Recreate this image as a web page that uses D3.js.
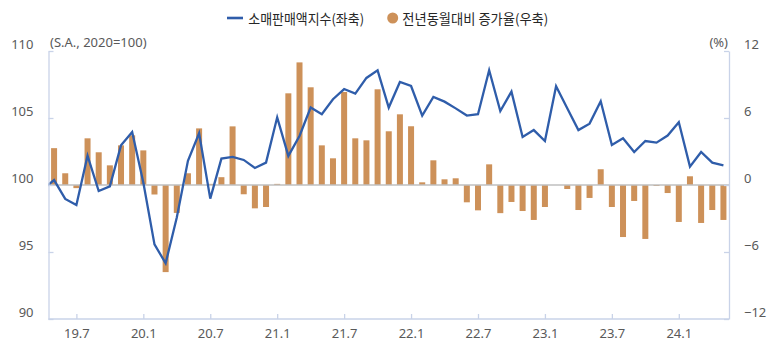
<!DOCTYPE html>
<html><head><meta charset="utf-8">
<script src="https://cdn.jsdelivr.net/npm/d3@7"></script>
<style>
body{margin:0;background:#fff;}
svg{display:block;font-family:"Noto Sans","Noto Sans CJK KR",sans-serif;}
</style></head>
<body>
<svg id="c" width="773" height="349"></svg>
<script>
// Months: 19.4 (clipped lead-in) .. 24.5
const months = ["19.4","19.5","19.6","19.7","19.8","19.9","19.10","19.11","19.12",
"20.1","20.2","20.3","20.4","20.5","20.6","20.7","20.8","20.9","20.10","20.11","20.12",
"21.1","21.2","21.3","21.4","21.5","21.6","21.7","21.8","21.9","21.10","21.11","21.12",
"22.1","22.2","22.3","22.4","22.5","22.6","22.7","22.8","22.9","22.10","22.11","22.12",
"23.1","23.2","23.3","23.4","23.5","23.6","23.7","23.8","23.9","23.10","23.11","23.12",
"24.1","24.2","24.3","24.4","24.5"];
// 소매판매액지수 (S.A., 2020=100)
const salesIndex = [99.7,100.37,98.96,98.51,102.19,99.55,99.9,102.96,103.96,
100.18,95.57,94.16,97.57,101.8,103.86,98.98,101.97,102.1,101.87,101.27,101.67,
105.05,102.17,103.66,105.78,105.28,106.4,107.16,106.82,107.99,108.56,105.78,107.69,
107.39,105.18,106.57,106.22,105.72,105.18,105.28,108.56,105.52,106.97,103.58,104.1,
103.28,107.37,105.72,104.1,104.58,106.25,102.99,103.49,102.46,103.28,103.16,103.69,
104.68,101.37,102.46,101.67,101.47];
// 전년동월대비 증가율 (%)
const yoyGrowth = [null,3.3,1.05,-0.28,4.18,2.93,1.76,3.55,4.45,
3.1,-0.85,-7.8,-2.5,1.05,5.07,0.1,0.7,5.25,-0.83,-2.09,-1.97,
0.1,8.21,10.98,8.75,3.55,2.39,8.33,4.18,4.0,8.57,4.81,6.33,
5.26,0.24,2.21,0.51,0.6,-1.55,-2.27,1.85,-2.52,-1.52,-2.33,-3.13,
-1.97,0.0,-0.36,-2.24,-1.16,1.41,-1.97,-4.66,-1.43,-4.83,-0.09,-0.72,
-3.31,0.78,-3.4,-2.24,-3.13];
const xTickLabels = ["19.7","20.1","20.7","21.1","21.7","22.1","22.7","23.1","23.7","24.1"];
const leftTicks = [90,95,100,105,110];
const rightTicks = [-12,-6,0,6,12];
const legendLabels = ["소매판매액지수(좌축)","전년동월대비 증가율(우축)"];

const svg = d3.select("#c");
const L = 48.5, R = 729, T = 51, B = 319;
const x = d3.scaleLinear().domain([0.5, months.length - 0.5]).range([L, R]);
const yL = d3.scaleLinear().domain([90,110]).range([B, T]);
const yR = d3.scaleLinear().domain([-12,12]).range([B, T]);
const axisCol = "#c9d3e8", txtCol = "#595959";
const blue = "#2f5daa", orange = "#cd9159";

svg.append("defs").append("clipPath").attr("id","clip")
  .append("rect").attr("x",L).attr("y",0).attr("width",R-L).attr("height",349);

// bars
const barW = 6;
svg.append("g").selectAll("rect")
  .data(months.map((m,i)=>({i, v: yoyGrowth[i]})).filter(d=>d.v!==null))
  .join("rect")
  .attr("x", d=>x(d.i)-barW/2)
  .attr("width", barW)
  .attr("y", d=>Math.min(yR(d.v), yR(0)))
  .attr("height", d=>Math.abs(yR(d.v)-yR(0)))
  .attr("fill", orange);

// zero line
svg.append("line").attr("x1",L).attr("x2",R).attr("y1",yR(0)).attr("y2",yR(0))
  .attr("stroke","#bfbfbf").attr("stroke-width",1.5);

// line
const line = d3.line().x((d,i)=>x(i)).y(d=>yL(d));
svg.append("path").datum(salesIndex).attr("clip-path","url(#clip)")
  .attr("d", line).attr("fill","none").attr("stroke",blue)
  .attr("stroke-width",2.3).attr("stroke-linejoin","miter");

function styleAxis(g){
  g.select(".domain").attr("stroke",axisCol).attr("stroke-width",1.3);
  g.selectAll(".tick line").attr("stroke",axisCol).attr("stroke-width",1.3);
  g.selectAll("text").attr("fill",txtCol).attr("font-size","13px")
   .attr("font-family",'"Noto Sans",sans-serif');
}
// left axis
const gl = svg.append("g").attr("transform",`translate(${L},0)`)
  .call(d3.axisLeft(yL).tickValues(leftTicks).tickSize(-5).tickPadding(15).tickSizeOuter(0));
styleAxis(gl);
gl.selectAll("text").attr("y",-6.5);
// right axis
const gr = svg.append("g").attr("transform",`translate(${R},0)`)
  .call(d3.axisRight(yR).tickValues(rightTicks).tickSize(-5).tickPadding(15).tickSizeOuter(0)
  .tickFormat(d=> d<0 ? "\u2212"+Math.abs(d) : d));
styleAxis(gr);
gr.selectAll("text").attr("y",-6.5);
// bottom axis
const tickIdx = xTickLabels.map(l=>months.indexOf(l));
const gb = svg.append("g").attr("transform",`translate(0,${B})`)
  .call(d3.axisBottom(x).tickValues(tickIdx).tickSize(-5).tickPadding(10).tickSizeOuter(0)
  .tickFormat(i=>months[i]));
styleAxis(gb);
gb.select(".domain").attr("d",`M${L},0H${R}`);

// unit labels
svg.append("text").attr("x",50).attr("y",46.5).text("(S.A., 2020=100)")
  .attr("fill",txtCol).attr("font-size","13px");
svg.append("text").attr("x",728).attr("y",46.5).attr("text-anchor","end").text("(%)")
  .attr("fill",txtCol).attr("font-size","13px");

// legend
const lg = svg.append("g");
lg.append("line").attr("x1",227).attr("x2",243).attr("y1",18).attr("y2",18)
  .attr("stroke",blue).attr("stroke-width",2.6);
lg.append("text").attr("x",248.3).attr("y",23.5).text(legendLabels[0])
  .attr("font-family",'"Noto Sans CJK KR",sans-serif').attr("font-size","13.5px")
  .attr("fill","#262626").attr("textLength",115.7).attr("lengthAdjust","spacingAndGlyphs");
lg.append("circle").attr("cx",392.7).attr("cy",18).attr("r",5.5).attr("fill",orange);
lg.append("text").attr("x",402.3).attr("y",23.5).text(legendLabels[1])
  .attr("font-family",'"Noto Sans CJK KR",sans-serif').attr("font-size","13.5px")
  .attr("fill","#262626").attr("textLength",146).attr("lengthAdjust","spacingAndGlyphs");
</script>
</body></html>
